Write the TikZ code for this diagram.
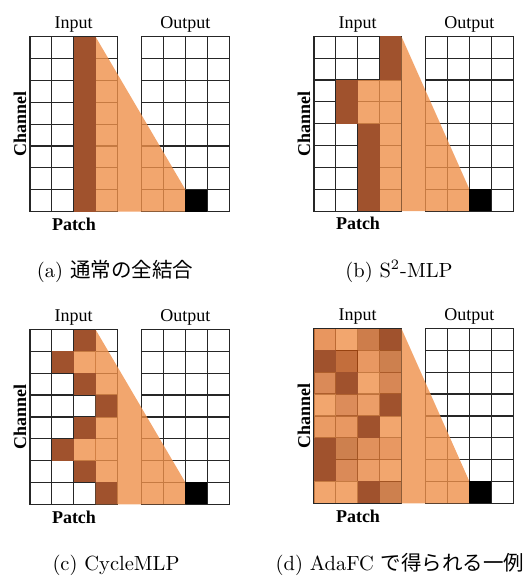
\documentclass[tikz,border=0pt]{standalone}
\usepackage{fontspec}
\newfontfamily\tnr{Liberation Serif}
\newfontfamily\cjk{Noto Sans CJK JP}
\definecolor{dk}{RGB}{160,82,45}
\definecolor{lt}{RGB}{239,144,74}
\definecolor{mA}{RGB}{226,124,55}
\definecolor{mB}{RGB}{193,93,30}
\definecolor{mC}{RGB}{180,74,11}
\definecolor{mD}{RGB}{226,126,59}
\definecolor{mE}{RGB}{193,96,34}
\definecolor{mF}{RGB}{209,109,46}
\definecolor{mG}{RGB}{205,105,43}
\definecolor{mH}{RGB}{211,111,49}
\definecolor{mI}{RGB}{231,134,66}
\definecolor{mJ}{RGB}{229,130,61}
\definecolor{mK}{RGB}{218,118,51}
\tikzset{
  gl/.style={draw=black!85, line width=1.2pt, line cap=rect},
  lab/.style={font=\tnr\fontsize{18}{20}\selectfont, inner sep=0pt, anchor=base},
  ax/.style={font=\tnr\bfseries\fontsize{18}{20}\selectfont, inner sep=0pt, anchor=base},
  captext/.style={scale=2.05, inner sep=0pt, anchor=base, font=\fontsize{10}{12}\selectfont},
  tint/.style={fill opacity=0.8},
}
\def\s{21.85}
\newcommand\gridat[2]{%
  \foreach \i in {0,...,4} {\draw[gl] ({#1+\i*\s},#2) -- ({#1+\i*\s},{#2+8*\s});}
  \foreach \j in {0,...,8} {\draw[gl] (#1,{#2+\j*\s}) -- ({#1+4*\s},{#2+\j*\s});}
}
\newcommand\cellat[5]{\fill[#5] ({#1+(#3-1)*\s},{#2+(#4-1)*\s}) rectangle ++(\s,\s);}
\newcommand\panelbase[4]{%
  \gridat{#1}{#2}
  \gridat{#1+111.7}{#2}
  \fill[lt, tint] ({#1+#3*\s},#2) -- ({#1+155.4},{#2+7*\s}) -- ({#1+155.4},{#2+8*\s}) -- ({#1+#3*\s},{#2+8*\s}) -- cycle;
}
\newcommand\panellabels[3]{%
  \node[lab] (#3in) at ({#1+43.7},{#2-8.3}) {Input};
  \node[lab] (#3out) at ({#1+155.4},{#2-8.3}) {Output};
  \node[ax, rotate=90] (#3ch) at ({#1-4},{#2+87.4}) {Channel};
  \node[ax] (#3pa) at ({#1+44},{#2+8*\s+18.7}) {Patch};
  \fill[black] ({#1+155.4},{#2+7*\s}) rectangle ++(\s,\s);
}
\begin{document}
\begin{tikzpicture}[x=1pt,y=-1pt]
\useasboundingbox (0,0) rectangle (527,576);
% ---------- (a) ----------
\def\X{30}\def\Y{36.7}
\panelbase{\X}{\Y}{3}{a}
\foreach \r in {1,...,8} {\cellat{\X}{\Y}{3}{\r}{dk}}
\panellabels{\X}{\Y}{a}
% ---------- (b) ----------
\def\X{314}\def\Y{36.3}
\panelbase{\X}{\Y}{4}{b}
\foreach \c/\r in {3/3,4/3,3/4,4/4,4/5,4/6,4/7,4/8} {\cellat{\X}{\Y}{\c}{\r}{lt,tint}}
\foreach \c/\r in {4/1,4/2,2/3,2/4,3/5,3/6,3/7,3/8} {\cellat{\X}{\Y}{\c}{\r}{dk}}
\panellabels{\X}{\Y}{b}
% ---------- (c) ----------
\def\X{30}\def\Y{329.5}
\panelbase{\X}{\Y}{3}{c}
\foreach \c/\r in {3/2,3/6} {\cellat{\X}{\Y}{\c}{\r}{lt,tint}}
\foreach \c/\r in {3/1,2/2,3/3,4/4,3/5,2/6,3/7,4/8} {\cellat{\X}{\Y}{\c}{\r}{dk}}
\panellabels{\X}{\Y}{c}
% ---------- (d) ----------
\def\X{314}\def\Y{328.5}
\panelbase{\X}{\Y}{4}{d}
\foreach \c/\r/\k in {1/1/mA,2/1/lt,3/1/mB,
  2/2/mC,3/2/mD,4/2/mE,
  1/3/mF,3/3/lt,4/3/mG,
  1/4/lt,2/4/mH,3/4/mI,
  1/5/mJ,2/5/mD,4/5/lt,
  2/6/mE,3/6/mK,4/6/mD,
  2/7/mF,3/7/mI,4/7/lt,
  1/8/lt,2/8/lt,4/8/mE} {\cellat{\X}{\Y}{\c}{\r}{\k,tint}}
\foreach \c/\r in {4/1,1/2,2/3,4/4,3/5,1/6,1/7,3/8} {\cellat{\X}{\Y}{\c}{\r}{dk}}
\panellabels{\X}{\Y}{d}
% ---------- captions ----------
\node[captext] (capa) at (115,277) {(a) {\cjk 通常の全結合}};
\node[captext] (capb) at (399,277) {(b) S$^2$-MLP};
\node[captext] (capc) at (116,570) {(c) CycleMLP};
\node[captext] (capd) at (400,570) {(d) AdaFC {\cjk で得られる一例}};
\end{tikzpicture}
\end{document}
